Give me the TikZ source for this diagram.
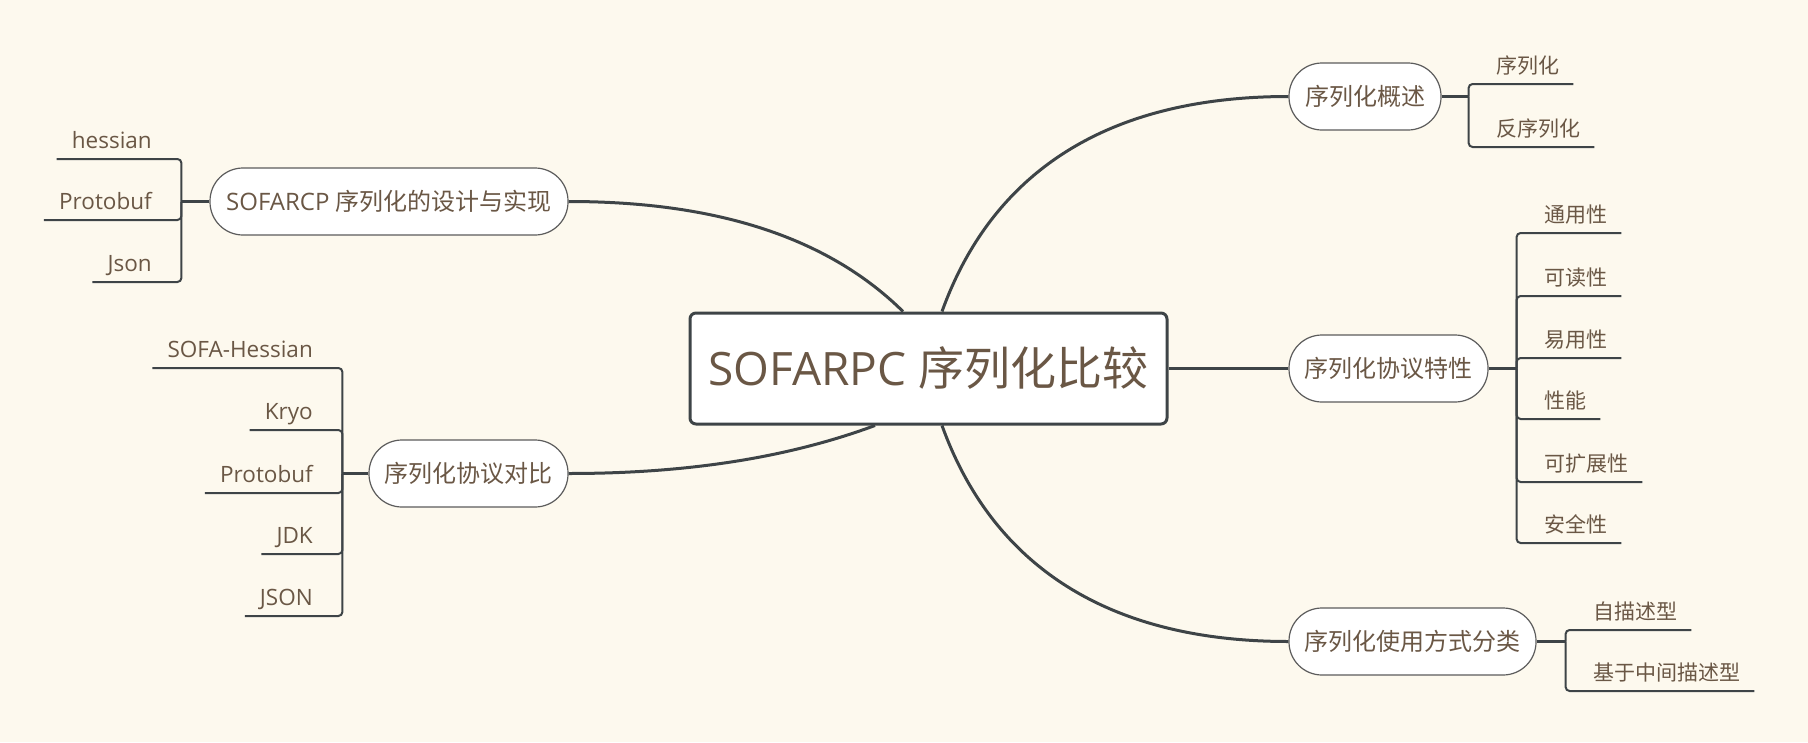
\documentclass[tikz,border=0pt]{standalone}
\usepackage{fontspec}
\setmainfont{Open Sans}
\newfontfamily\cjk{Noto Sans CJK SC}
\usetikzlibrary{calc}
\definecolor{bgc}{HTML}{FDF9EE}
\definecolor{txt}{HTML}{6A5745}
\definecolor{ln}{HTML}{3E4447}
\definecolor{bd}{HTML}{5C5C5C}
\begin{document}
\begin{tikzpicture}[x=1pt,y=-1pt,
  central/.style={draw=ln, line width=3pt, fill=white, rounded corners=6pt, minimum width=477pt, minimum height=111pt, text=txt, font=\fontsize{46}{54}\selectfont, inner sep=0pt},
  topic/.style={draw=bd, line width=1.2pt, fill=white, rounded corners=33pt, minimum height=67pt, text=txt, font=\fontsize{24}{28}\selectfont, inner sep=0pt},
  leafR/.style={anchor=south west, inner xsep=0pt, inner ysep=10pt, text depth=0pt, text=txt, font=\fontsize{21}{25}\selectfont, execute at begin node={\hspace*{28pt}}, execute at end node={\hspace*{14pt}}},
  leafL/.style={anchor=south east, inner xsep=0pt, inner ysep=10pt, text depth=0pt, text=txt, font=\fontsize{22.5}{26}\selectfont, execute at begin node={\hspace*{15pt}}, execute at end node={\hspace*{30pt}}},
  stem/.style={draw=ln, line width=3pt},
  branch/.style={draw=ln, line width=2pt, rounded corners=4pt},
  mcurve/.style={draw=ln, line width=3pt}
]
\fill[bgc] (0,0) rectangle (1808,742);
\useasboundingbox (0,0) rectangle (1808,742);

% central
\node[central] (c) at (928.5,368.5) {SOFARPC {\cjk 序列化比较}};

% topics
\node[topic, minimum width=152pt] (n1) at (1365,96.5) {\cjk 序列化概述};
\node[topic, minimum width=199pt] (n2) at (1388.5,368.5) {\cjk 序列化协议特性};
\node[topic, minimum width=247pt] (n3) at (1412.5,641.5) {\cjk 序列化使用方式分类};
\node[topic, minimum width=358pt] (n4) at (389,201.5) {SOFARCP {\cjk 序列化的设计与实现}};
\node[topic, minimum width=199pt] (n5) at (468.5,473.5) {\cjk 序列化协议对比};

% main connectors
\draw[mcurve] ($(c.north)+(13.5,0)$) .. controls +(48,-133) and +(-189,0) .. (n1.west);
\draw[mcurve] (c.east) -- (n2.west);
\draw[mcurve] ($(c.south)+(13.5,0)$) .. controls +(48,133) and +(-189,0) .. (n3.west);
\draw[mcurve] (n4.east) .. controls +(148,0) and +(-75,-74) .. ($(c.north)+(-25.5,0)$);
\draw[mcurve] (n5.east) .. controls +(114.7,0) and +(-90,33.3) .. ($(c.south)+(-53.5,0)$);

% group 1
\coordinate (j1) at ($(n1.east)+(27,0)$);
\node[leafR] (a1) at (1468,84) {\cjk 序列化};
\node[leafR] (a2) at (1468,147) {\cjk 反序列化};
\draw[stem] (n1.east) -- (j1);
\foreach \k in {a1,a2} \draw[branch] (j1) |- (\k.south east);

% group 2
\coordinate (j2) at ($(n2.east)+(28,0)$);
\node[leafR] (b1) at (1516,233) {\cjk 通用性};
\node[leafR] (b2) at (1516,296) {\cjk 可读性};
\node[leafR] (b3) at (1516,358) {\cjk 易用性};
\node[leafR] (b4) at (1516,419) {\cjk 性能};
\node[leafR] (b5) at (1516,482) {\cjk 可扩展性};
\node[leafR] (b6) at (1516,543) {\cjk 安全性};
\draw[stem] (n2.east) -- (j2);
\foreach \k in {b1,b2,b3,b4,b5,b6} \draw[branch] (j2) |- (\k.south east);

% group 3
\coordinate (j3) at ($(n3.east)+(29,0)$);
\node[leafR] (d1) at (1565,630) {\cjk 自描述型};
\node[leafR] (d2) at (1565,691) {\cjk 基于中间描述型};
\draw[stem] (n3.east) -- (j3);
\foreach \k in {d1,d2} \draw[branch] (j3) |- (\k.south east);

% group 4
\coordinate (j4) at ($(n4.west)+(-28,0)$);
\node[leafL] (e1) at (182,159) {hessian};
\node[leafL] (e2) at (182,220) {Protobuf};
\node[leafL] (e3) at (182,282) {Json};
\draw[stem] (n4.west) -- (j4);
\foreach \k in {e1,e2,e3} \draw[branch] (j4) |- (\k.south west);

% group 5
\coordinate (j5) at ($(n5.west)+(-26,0)$);
\node[leafL] (f1) at (343,368) {SOFA-Hessian};
\node[leafL] (f2) at (343,430) {Kryo};
\node[leafL] (f3) at (343,493) {Protobuf};
\node[leafL] (f4) at (343,554) {JDK};
\node[leafL] (f5) at (343,616) {JSON};
\draw[stem] (n5.west) -- (j5);
\foreach \k in {f1,f2,f3,f4,f5} \draw[branch] (j5) |- (\k.south west);
\end{tikzpicture}
\end{document}
